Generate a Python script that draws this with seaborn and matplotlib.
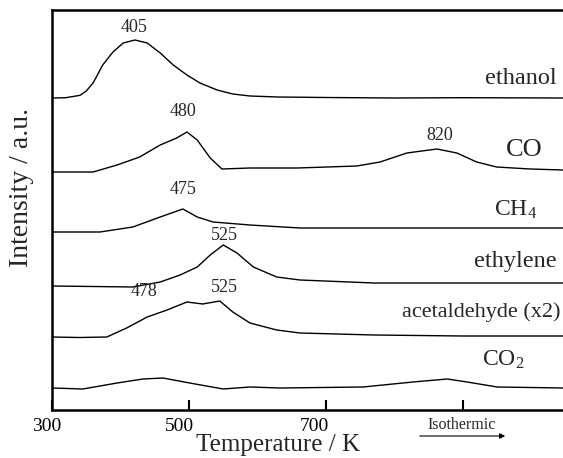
import matplotlib
matplotlib.use("Agg")
import matplotlib.pyplot as plt
from matplotlib.transforms import ScaledTranslation
import seaborn as sns
import pandas as pd

# ---- data (temperature in K, intensity in a.u. above each trace's baseline) ----
ethanol_T = [300, 320, 341, 350, 360, 374, 389, 404, 421, 439, 458, 477, 497, 516, 541, 564, 589, 630, 700, 800, 900, 1046]
ethanol_I = [0, 0.3, 2.7, 7, 15, 33, 46, 55, 58, 55, 45, 33, 23, 15, 8, 4, 2, 1, 0.5, 0, 0.3, 0]

co_T = [300, 330, 360, 395, 428, 458, 482, 497, 512, 531, 548, 589, 658, 745, 779, 818, 862, 891, 920, 949, 998, 1046]
co_I = [0, 0, 0, 7, 15, 27, 34, 40, 32, 14, 3, 4, 4, 6, 10, 19, 23, 19, 10, 5, 3, 2]

ch4_T = [300, 340, 370, 418, 458, 491, 512, 535, 589, 662, 770, 900, 1046]
ch4_I = [0, 0, 0, 5, 15, 23, 15, 10, 7, 4, 4, 4, 4]

ethylene_T = [300, 360, 418, 458, 487, 512, 531, 550, 570, 594, 628, 662, 770, 900, 1046]
ethylene_I = [0, -0.5, -1, 4, 11, 19, 31, 41, 33, 19, 9, 6, 3, 3, 3]

acetaldehyde_T = [300, 340, 380, 409, 439, 468, 497, 520, 545, 564, 589, 628, 662, 770, 900, 1046]
acetaldehyde_I = [0, -0.5, 0, 9, 20, 27, 35, 33, 36, 25, 14, 7, 4, 2, 1, 1]

co2_T = [300, 345, 395, 433, 462, 501, 550, 589, 633, 754, 827, 877, 906, 950, 1046]
co2_I = [0, -1, 5, 9, 10, 5, -1, 1, 0, 1, 6, 9, 6, 1, 0]

series_names = ["ethanol", "CO", "CH$_4$", "ethylene", "acetaldehyde (x2)", "CO$_2$"]
series_T = [ethanol_T, co_T, ch4_T, ethylene_T, acetaldehyde_T, co2_T]
series_I = [ethanol_I, co_I, ch4_I, ethylene_I, acetaldehyde_I, co2_I]
offsets = [312, 238, 178, 124, 73, 22]

# peak annotations: (label, T, y)
peak_labels = ["405", "480", "820", "475", "525", "478", "525"]
peak_T = [420, 491, 866, 491, 551, 434, 551]
peak_y = [382, 298, 274, 220, 175, 118, 122]

xticks = [300, 500, 700, 900]
xticklabels = ["300", "500", "700", ""]

# ---- build long table ----
rows = []
for name, Ts, Is, off in zip(series_names, series_T, series_I, offsets):
    for t, v in zip(Ts, Is):
        rows.append({"series": name, "T": t, "I": v + off})
df = pd.DataFrame(rows)

sns.set_theme(style="ticks")
plt.rcParams["font.family"] = ["Liberation Serif", "DejaVu Serif"]
plt.rcParams["mathtext.default"] = "regular"

fig = plt.figure(figsize=(5.63, 4.58), dpi=100)
ax = fig.add_axes([52 / 563, 48 / 458, (563 - 52) / 563, 400 / 458])

for name in series_names:
    sub = df[df["series"] == name]
    sns.lineplot(data=sub, x="T", y="I", ax=ax, color="black", linewidth=1.0,
                 estimator=None, sort=False, legend=False)

ax.set_xlim(300, 1046)
ax.set_ylim(0, 400)
ax.set_yticks([])
ax.set_xticks(xticks)
ax.set_xticklabels(xticklabels)
ax.tick_params(axis="x", direction="in", length=7, width=1.5, labelsize=14, pad=6, colors="black")
shifts = [-5, -10, -12, 0]
for lbl, dx in zip(ax.get_xticklabels(), shifts):
    lbl.set_transform(lbl.get_transform() + ScaledTranslation(dx / 100, 0, fig.dpi_scale_trans))
for s in ["left", "top", "bottom"]:
    ax.spines[s].set_linewidth(1.8)
    ax.spines[s].set_color("black")
ax.spines["right"].set_visible(False)

ax.set_xlabel("Temperature / K", fontsize=18)
ax.xaxis.set_label_coords((278 - 52) / 511, -(445 - 410) / 400, transform=ax.transAxes)
ax.xaxis.label.set_va("center")
ax.set_ylabel("Intensity / a.u.", fontsize=20)
ax.yaxis.set_label_coords(-(52 - 22) / 511, (410 - 187) / 400, transform=ax.transAxes)
ax.yaxis.label.set_va("center")

for lab, t, y in zip(peak_labels, peak_T, peak_y):
    ax.text(t, y, lab, fontsize=13, ha="center", va="center")

# series labels
ax.text(1036, 332, series_names[0], fontsize=17.5, ha="right", va="center")
ax.text(990, 260, series_names[1], fontsize=19, ha="center", va="center")
ax.text(976, 200, series_names[2], fontsize=17, ha="center", va="center")
ax.text(1036, 148, series_names[3], fontsize=17.5, ha="right", va="center")
ax.text(1043, 98, series_names[4], fontsize=16, ha="right", va="center")
ax.text(958, 50, series_names[5], fontsize=17, ha="center", va="center")

# isothermic arrow below axis
fig.text(462 / 563, (458 - 425) / 458, "Isothermic", fontsize=11.5, ha="center", va="center")
fig.add_artist(matplotlib.patches.FancyArrowPatch(
    (417 / 563, 22 / 458), (508 / 563, 22 / 458), transform=fig.transFigure,
    arrowstyle="-|>", mutation_scale=8, color="black", linewidth=0.8))

fig.savefig("out.png", dpi=100)
